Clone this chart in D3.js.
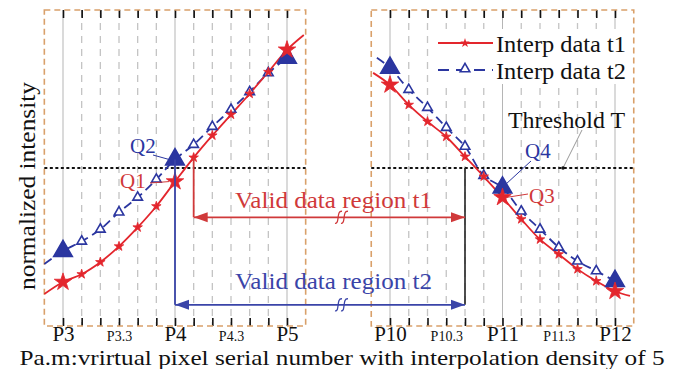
<!DOCTYPE html>
<html>
<head>
<meta charset="utf-8">
<script src="https://cdn.jsdelivr.net/npm/d3@7"></script>
<style>
  body { margin: 0; background: #fff; }
  text { font-family: "Liberation Serif", "Times New Roman", serif; }
</style>
</head>
<body>
<svg id="chart" width="679" height="369"></svg>
<script>
// values, one per interpolation step (6 steps between two P points)
var leftLabels  = ["P3", "P3.3", "P4", "P4.3", "P5"];
var rightLabels = ["P10", "P10.3", "P11", "P11.3", "P12"];

var t1Left  = [0.139, 0.164, 0.202, 0.252, 0.312, 0.379, 0.457, 0.533, 0.603, 0.669, 0.735, 0.804, 0.874];
var t2Left  = [0.237, 0.268, 0.306, 0.360, 0.407, 0.464, 0.527, 0.574, 0.631, 0.685, 0.741, 0.801, 0.849];
var t1Right = [0.763, 0.700, 0.647, 0.599, 0.536, 0.473, 0.407, 0.338, 0.274, 0.227, 0.180, 0.142, 0.110];
var t2Right = [0.817, 0.748, 0.691, 0.628, 0.568, 0.476, 0.438, 0.363, 0.306, 0.249, 0.205, 0.174, 0.142];

// where each curve runs past its first / last marker: [step, value]
var t1LeftEnds  = [[-1, 0.101], [12.9, 0.921]];
var t2LeftEnds  = [[-1, 0.196], [12, 0.849]];
var t1RightEnds = [[-0.9, 0.801], [12.8, 0.095]];
var t2RightEnds = [[-0.7, 0.849], [12.3, 0.132]];

var threshold = 0.5;

var red = "#e3262d", blue = "#2b36a0", orange = "#d9a06a";

var svg = d3.select("#chart");

// y is shared, x is broken into two panels
var y = d3.scaleLinear().domain([0, 1]).range([326, 10]);
var xL = d3.scaleLinear().domain([0, 12]).range([63, 287]);
var xR = d3.scaleLinear().domain([0, 12]).range([390, 615]);

var steps = d3.range(0, 13);

var line = d3.line()
  .x(function(d) { return d.x; })
  .y(function(d) { return d.y; })
  .curve(d3.curveCatmullRom);

function drawPanel(x, labels, t1, t2, ends1, ends2) {
  var g = svg.append("g");

  // grid, solid at the P points, dashed at interpolated ones
  g.selectAll(".grid")
    .data(steps)
    .enter().append("line")
    .attr("x1", function(d) { return x(d); })
    .attr("x2", function(d) { return x(d); })
    .attr("y1", y(1)).attr("y2", y(0))
    .attr("stroke", function(d) { return d % 6 == 0 ? "#b5b5b5" : "#c4c4c4"; })
    .attr("stroke-width", function(d) { return d % 6 == 0 ? 1 : 1.3; })
    .attr("stroke-dasharray", function(d) { return d % 6 == 0 ? null : "7,6"; });

  // ticks top and bottom
  g.append("g")
    .attr("transform", "translate(0," + y(1) + ")")
    .call(d3.axisTop(x).tickValues(steps).tickSize(-8).tickFormat(""))
    .call(function(a) {
      a.select(".domain").remove();
      a.selectAll("line").attr("stroke", "#111").attr("stroke-width", 1.6);
    });
  var bottom = g.append("g")
    .attr("transform", "translate(0," + y(0) + ")")
    .call(d3.axisBottom(x).tickValues(steps).tickSize(-8)
      .tickFormat(function(d) { return d % 3 == 0 ? labels[d / 3] : ""; }));
  bottom.select(".domain").remove();
  bottom.selectAll("line").attr("stroke", "#111").attr("stroke-width", 1.6);
  bottom.selectAll("text")
    .attr("fill", "#111")
    .attr("y", 15)
    .attr("dy", 0)
    .style("font-family", "'Liberation Serif', serif")
    .style("font-size", function(d) { return d % 6 == 0 ? "21px" : "14px"; });

  // dashed panel frame
  g.append("rect")
    .attr("x", x(-1)).attr("y", y(1))
    .attr("width", x(13) - x(-1)).attr("height", y(0) - y(1))
    .attr("fill", "none")
    .attr("stroke", orange)
    .attr("stroke-width", 1.6)
    .attr("stroke-dasharray", "6,4");

  // threshold
  g.append("line")
    .attr("x1", x(-1)).attr("x2", x(13))
    .attr("y1", y(threshold)).attr("y2", y(threshold))
    .attr("stroke", "#111").attr("stroke-width", 2)
    .attr("stroke-dasharray", "3,2.5");

  var pts1 = [ends1[0]].concat(t1.map(function(v, i) { return [i, v]; }), [ends1[1]])
    .map(function(p) { return {x: x(p[0]), y: y(p[1])}; });
  var pts2 = [ends2[0]].concat(t2.map(function(v, i) { return [i, v]; }), [ends2[1]])
    .map(function(p) { return {x: x(p[0]), y: y(p[1])}; });

  g.append("path").attr("d", line(pts2))
    .attr("fill", "none").attr("stroke", blue).attr("stroke-width", 1.8)
    .attr("stroke-dasharray", "9,5");
  g.append("path").attr("d", line(pts1))
    .attr("fill", "none").attr("stroke", red).attr("stroke-width", 1.8);

  // markers: big at P points
  g.selectAll(".m2")
    .data(t2)
    .enter().append("path")
    .attr("transform", function(d, i) { return "translate(" + x(i) + "," + y(d) + ")"; })
    .attr("d", function(d, i) {
      return d3.symbol().type(d3.symbolTriangle).size(i % 6 == 0 ? 150 : 40)();
    })
    .attr("fill", function(d, i) { return i % 6 == 0 ? blue : "#fff"; })
    .attr("stroke", blue).attr("stroke-width", 1.6);

  g.selectAll(".m1")
    .data(t1)
    .enter().append("path")
    .attr("transform", function(d, i) { return "translate(" + x(i) + "," + y(d) + ")"; })
    .attr("d", function(d, i) {
      return d3.symbol().type(d3.symbolStar).size(i % 6 == 0 ? 95 : 28)();
    })
    .attr("fill", red).attr("stroke", red).attr("stroke-width", 0.8);
}

drawPanel(xL, leftLabels, t1Left, t2Left, t1LeftEnds, t2LeftEnds);
drawPanel(xR, rightLabels, t1Right, t2Right, t1RightEnds, t2RightEnds);

// valid data regions: start step on the left panel, end step on the right panel
var regionT1 = {from: 7, to: 4, at: 0.344, top: t1Left[7]};
var regionT2 = {from: 6, to: 4, at: 0.067, top: t2Left[6]};

var ann = svg.append("g");

ann.append("line")
  .attr("x1", xR(regionT2.to)).attr("x2", xR(regionT2.to))
  .attr("y1", y(threshold)).attr("y2", y(regionT2.at))
  .attr("stroke", "#222").attr("stroke-width", 1.6);

function region(r, color, label, textY) {
  ann.append("line")
    .attr("x1", xL(r.from)).attr("x2", xL(r.from))
    .attr("y1", y(r.top)).attr("y2", y(r.at))
    .attr("stroke", color).attr("stroke-width", 1.8);
  ann.append("line")
    .attr("x1", xL(r.from)).attr("x2", xR(r.to))
    .attr("y1", y(r.at)).attr("y2", y(r.at))
    .attr("stroke", color).attr("stroke-width", 1.8);
  var a = xL(r.from), b = xR(r.to), yy = y(r.at);
  ann.append("path")
    .attr("d", "M" + a + "," + yy + "L" + (a + 14) + "," + (yy - 5) + "L" + (a + 14) + "," + (yy + 5) + "Z")
    .attr("fill", color);
  ann.append("path")
    .attr("d", "M" + b + "," + yy + "L" + (b - 14) + "," + (yy - 5) + "L" + (b - 14) + "," + (yy + 5) + "Z")
    .attr("fill", color);
  // break mark on the arrow
  [339, 345].forEach(function(bx) {
    ann.append("path")
      .attr("d", "M" + (bx - 4) + "," + (yy + 6) + "C" + (bx + 1) + "," + (yy + 7) + " " + (bx - 3) + "," + (yy - 7) + " " + (bx + 3) + "," + (yy - 6))
      .attr("fill", "none").attr("stroke", color).attr("stroke-width", 1.3);
  });
  ann.append("text")
    .attr("x", 235).attr("y", textY)
    .attr("textLength", 197)
    .attr("lengthAdjust", "spacingAndGlyphs")
    .attr("fill", color)
    .style("font-size", "23px")
    .text(label);
}
region(regionT1, "#d0393a", "Valid data region t1", 208);
region(regionT2, "#3a44a8", "Valid data region t2", 289);

// point labels with leader lines
var callouts = [
  {t: "Q2", c: blue, tx: 130, ty: 153, lx1: 153, ly1: 155, x: xL(6), v: t2Left[6]},
  {t: "Q1", c: "#d0393a", tx: 120, ty: 188, lx1: 150, ly1: 183, x: xL(6), v: t1Left[6]},
  {t: "Q4", c: blue, tx: 525, ty: 158, lx1: 531, ly1: 161, x: xR(6), v: t2Right[6]},
  {t: "Q3", c: "#d0393a", tx: 529, ty: 203, lx1: 528, ly1: 194, x: xR(6), v: t1Right[6]}
];
callouts.forEach(function(d) {
  ann.append("line")
    .attr("x1", d.lx1).attr("y1", d.ly1)
    .attr("x2", d.x + (d.lx1 < d.x ? -6 : 4)).attr("y2", y(d.v) + (d.t == "Q4" ? -4 : 0))
    .attr("stroke", d.c).attr("stroke-width", 1);
  ann.append("text")
    .attr("x", d.tx).attr("y", d.ty)
    .attr("fill", d.c)
    .style("font-size", "21px")
    .text(d.t);
});

// threshold label
ann.append("line")
  .attr("x1", 582).attr("y1", 130)
  .attr("x2", 563).attr("y2", y(threshold))
  .attr("stroke", "#999").attr("stroke-width", 1);
ann.append("circle").attr("cx", 563).attr("cy", y(threshold)).attr("r", 1.8).attr("fill", "#111");
ann.append("text")
  .attr("x", 508).attr("y", 128)
  .attr("textLength", 117).attr("lengthAdjust", "spacingAndGlyphs")
  .attr("fill", "#111")
  .style("font-size", "23px")
  .text("Threshold T");

// legend
var legend = svg.append("g");
legend.append("rect").attr("x", 436).attr("y", 29).attr("width", 196).attr("height", 55).attr("fill", "#fff");
legend.append("line").attr("x1", 438).attr("x2", 493).attr("y1", 43).attr("y2", 43)
  .attr("stroke", red).attr("stroke-width", 1.8);
legend.append("path").attr("transform", "translate(465,43)")
  .attr("d", d3.symbol().type(d3.symbolStar).size(28)()).attr("fill", red);
legend.append("line").attr("x1", 438).attr("x2", 493).attr("y1", 70).attr("y2", 70)
  .attr("stroke", blue).attr("stroke-width", 1.8).attr("stroke-dasharray", "11,7");
legend.append("path").attr("transform", "translate(465,69)")
  .attr("d", d3.symbol().type(d3.symbolTriangle).size(40)())
  .attr("fill", "#fff").attr("stroke", blue).attr("stroke-width", 1.6);
legend.append("text").attr("x", 496).attr("y", 52)
  .attr("textLength", 130).attr("lengthAdjust", "spacingAndGlyphs")
  .style("font-size", "23px").attr("fill", "#111").text("Interp data t1");
legend.append("text").attr("x", 496).attr("y", 79)
  .attr("textLength", 130).attr("lengthAdjust", "spacingAndGlyphs")
  .style("font-size", "23px").attr("fill", "#111").text("Interp data t2");

// axis titles
svg.append("text")
  .attr("transform", "translate(35,186) rotate(-90)")
  .attr("text-anchor", "middle")
  .attr("textLength", 208).attr("lengthAdjust", "spacingAndGlyphs")
  .attr("fill", "#111")
  .style("font-size", "24px")
  .text("normalized intensity");

svg.append("text")
  .attr("x", 342).attr("y", 365)
  .attr("text-anchor", "middle")
  .attr("textLength", 645).attr("lengthAdjust", "spacingAndGlyphs")
  .attr("fill", "#111")
  .style("font-size", "21px")
  .text("Pa.m:vrirtual pixel serial number with interpolation density of 5");
</script>
</body>
</html>
